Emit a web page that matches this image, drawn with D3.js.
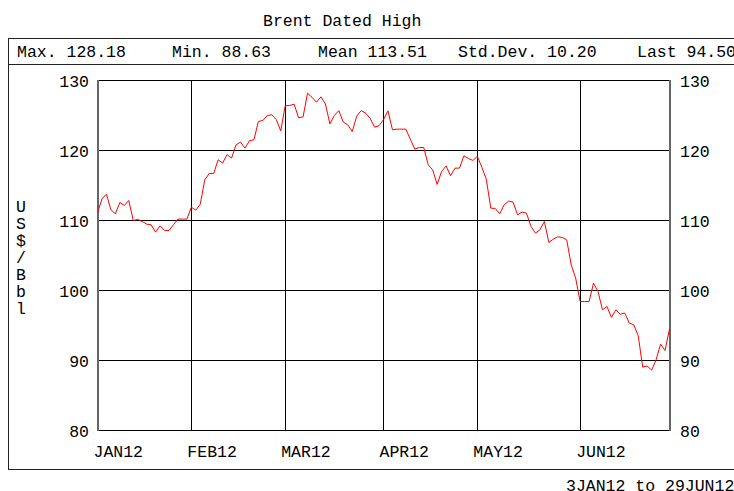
<!DOCTYPE html>
<html>
<head>
<meta charset="utf-8">
<script src="https://cdnjs.cloudflare.com/ajax/libs/d3/7.8.5/d3.min.js"></script>
<style>
  body { margin: 0; background: #fff; }
  text { font-family: "Liberation Mono", "Courier New", monospace; font-size: 16.5px; fill: #000; }
</style>
</head>
<body>
<div id="chart"></div>
<script>
var width = 734
var height = 491

// Brent Dated High, one value per weekday 3JAN12 .. 29JUN12 (holidays carry the previous value)
var values = [
  111.05, 113.10, 113.76, 111.53, 110.96, 112.58, 112.15, 112.86, 110.00, 110.15,
  109.86, 109.48, 109.39, 108.34, 109.24, 108.58, 108.58, 109.39, 110.20, 110.20,
  110.20, 111.90, 111.48, 112.34, 115.81, 116.72, 116.72, 118.67, 118.20, 119.43,
  118.91, 120.80, 121.20, 120.34, 121.39, 121.53, 124.15, 124.29, 125.00, 125.10,
  124.43, 122.80, 126.39, 126.43, 126.62, 124.67, 124.80, 128.18, 127.60, 126.90,
  127.67, 126.67, 123.80, 125.00, 125.70, 124.05, 123.67, 122.70, 124.90, 125.70,
  125.34, 124.60, 123.34, 123.53, 124.40, 125.67, 122.96, 123.05, 123.05, 123.05,
  121.62, 120.20, 120.43, 120.43, 117.96, 117.24, 115.15, 117.00, 117.80, 116.40,
  117.48, 117.48, 119.24, 118.86, 118.58, 119.15, 117.62, 115.91, 111.77, 111.72,
  110.96, 112.24, 112.77, 112.62, 110.81, 111.20, 111.05, 109.15, 108.20, 108.67,
  109.86, 106.86, 107.34, 107.67, 107.58, 107.24, 103.67, 101.77, 98.43, 98.43,
  98.43, 101.05, 99.86, 97.24, 97.72, 96.15, 97.24, 96.62, 96.77, 95.34,
  95.10, 93.53, 89.05, 89.20, 88.63, 90.10, 92.34, 91.43, 94.50
]
var startDate = new Date(2012, 0, 3)
var endDate = new Date(2012, 5, 29)
var monthLabels = ['JAN12', 'FEB12', 'MAR12', 'APR12', 'MAY12', 'JUN12']
var yTicks = [80, 90, 100, 110, 120, 130]
var title = 'Brent Dated High'
var yTitle = 'US$/Bbl'
var statLabels = ['Max.', 'Min.', 'Mean', 'Std.Dev.', 'Last']
var statValues = ['128.18', '88.63', '113.51', '10.20', '94.50']
var footer = '3JAN12 to 29JUN12'

var statX = [17, 172, 318, 458, 637]
var plot = {left: 97.5, right: 669.5, top: 80.5, bottom: 430.5}

// weekday dates for each value
var days = d3.timeDays(startDate, d3.timeDay.offset(endDate, 1)).filter(function(d){
  return d.getDay() != 0 && d.getDay() != 6
})

// index of first weekday in each month
var monthStarts = []
days.forEach(function(d, i){
  if (i == 0 || d.getMonth() != days[i-1].getMonth()) monthStarts.push(i)
})

var svg = d3.select('#chart').append('svg')
  .attr('width', width)
  .attr('height', height)

var x = d3.scaleLinear().domain([0, values.length - 1]).range([plot.left, plot.right])
var y = d3.scaleLinear().domain([80, 130]).range([plot.bottom, plot.top])

var crisp = function(v){ return Math.round(v - 0.5) + 0.5 }

// title
svg.append('text').attr('x', 263).attr('y', 26).text(title)

// outer frame and stats row
svg.append('rect')
  .attr('x', 8.5).attr('y', 38.5)
  .attr('width', 800).attr('height', 431)
  .attr('fill', 'none').attr('stroke', '#222')
svg.append('line')
  .attr('x1', 8.5).attr('x2', 734).attr('y1', 64.5).attr('y2', 64.5)
  .attr('stroke', '#222')

svg.selectAll('.stat').data(statLabels).enter().append('text')
  .attr('class', 'stat')
  .attr('x', function(d, i){ return statX[i] })
  .attr('y', 57)
  .attr('xml:space', 'preserve')
  .text(function(d, i){ return d + ' ' + statValues[i] })

// horizontal grid
svg.selectAll('.hgrid').data(yTicks).enter().append('line')
  .attr('class', 'hgrid')
  .attr('x1', plot.left).attr('x2', plot.right + 1)
  .attr('y1', function(d){ return crisp(y(d)) })
  .attr('y2', function(d){ return crisp(y(d)) })
  .attr('stroke', '#000')

// month grid lines
svg.selectAll('.vgrid').data(monthStarts.slice(1)).enter().append('line')
  .attr('class', 'vgrid')
  .attr('x1', function(d){ return crisp(x(d)) })
  .attr('x2', function(d){ return crisp(x(d)) })
  .attr('y1', plot.top).attr('y2', plot.bottom)
  .attr('stroke', '#000')

// side borders
svg.selectAll('.side').data([plot.left, plot.right]).enter().append('line')
  .attr('class', 'side')
  .attr('x1', function(d){ return Math.round(d) })
  .attr('x2', function(d){ return Math.round(d) })
  .attr('y1', plot.top - 0.5).attr('y2', plot.bottom + 0.5)
  .attr('stroke', '#666').attr('stroke-width', 2)

// y labels, both sides
svg.selectAll('.ylab').data(yTicks).enter().append('text')
  .attr('class', 'ylab')
  .attr('x', 89).attr('y', function(d){ return y(d) + 6 })
  .attr('text-anchor', 'end')
  .text(function(d){ return d })
svg.selectAll('.ylabr').data(yTicks).enter().append('text')
  .attr('class', 'ylabr')
  .attr('x', 680).attr('y', function(d){ return y(d) + 6 })
  .text(function(d){ return d })

// month labels
svg.selectAll('.xlab').data(monthStarts).enter().append('text')
  .attr('class', 'xlab')
  .attr('x', function(d){ return x(d) - 4 })
  .attr('y', 457)
  .text(function(d, i){ return monthLabels[i] })

// vertical axis title, one letter per row
svg.selectAll('.ytitle').data(yTitle.split('')).enter().append('text')
  .attr('class', 'ytitle')
  .attr('x', 21).attr('y', function(d, i){ return 212 + i * 17 })
  .attr('text-anchor', 'middle')
  .text(function(d){ return d })

// the series
var line = d3.line()
  .x(function(d, i){ return x(i) })
  .y(function(d){ return y(d) })
svg.append('path')
  .datum(values)
  .attr('d', line)
  .attr('fill', 'none')
  .attr('stroke', '#ff0000')
  .attr('stroke-width', 1)

svg.append('text').attr('x', 566).attr('y', 491).text(footer)
</script>
</body>
</html>
